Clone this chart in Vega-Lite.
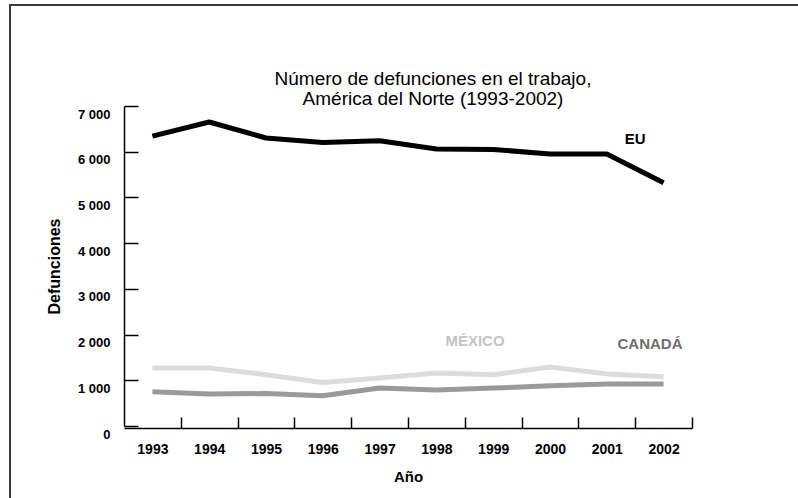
{
  "$schema": "https://vega.github.io/schema/vega-lite/v6.json",
  "autosize": "none",
  "width": 790,
  "height": 496,
  "padding": {"left": 10, "top": 5, "right": -2, "bottom": -3},
  "background": "white",
  "title": {
    "text": ["Número de defunciones en el trabajo,", "América del Norte (1993-2002)"],
    "font": "Liberation Sans",
    "fontSize": 19,
    "fontWeight": "normal",
    "color": "black",
    "anchor": "middle",
    "frame": "group",
    "dx": 28,
    "offset": -104,
    "lineHeight": 20
  },
  "datasets": {
    "series": [
      {"year": 1993, "country": "EU", "value": 6340},
      {"year": 1994, "country": "EU", "value": 6650},
      {"year": 1995, "country": "EU", "value": 6300},
      {"year": 1996, "country": "EU", "value": 6200},
      {"year": 1997, "country": "EU", "value": 6240},
      {"year": 1998, "country": "EU", "value": 6060},
      {"year": 1999, "country": "EU", "value": 6050},
      {"year": 2000, "country": "EU", "value": 5950},
      {"year": 2001, "country": "EU", "value": 5950},
      {"year": 2002, "country": "EU", "value": 5320},
      {"year": 1993, "country": "México", "value": 1270},
      {"year": 1994, "country": "México", "value": 1270},
      {"year": 1995, "country": "México", "value": 1120},
      {"year": 1996, "country": "México", "value": 950},
      {"year": 1997, "country": "México", "value": 1050},
      {"year": 1998, "country": "México", "value": 1160},
      {"year": 1999, "country": "México", "value": 1120},
      {"year": 2000, "country": "México", "value": 1290},
      {"year": 2001, "country": "México", "value": 1140},
      {"year": 2002, "country": "México", "value": 1080},
      {"year": 1993, "country": "Canadá", "value": 750},
      {"year": 1994, "country": "Canadá", "value": 700},
      {"year": 1995, "country": "Canadá", "value": 710},
      {"year": 1996, "country": "Canadá", "value": 660},
      {"year": 1997, "country": "Canadá", "value": 830},
      {"year": 1998, "country": "Canadá", "value": 790},
      {"year": 1999, "country": "Canadá", "value": 830},
      {"year": 2000, "country": "Canadá", "value": 880},
      {"year": 2001, "country": "Canadá", "value": 920},
      {"year": 2002, "country": "Canadá", "value": 920}
    ],
    "labels": [
      {"label": "EU", "year": 2001.5, "value": 6270},
      {"label": "MÉXICO", "year": 1998.68, "value": 1860},
      {"label": "CANADÁ", "year": 2001.76, "value": 1800}
    ]
  },
  "layer": [
    {
      "data": {"name": "series"},
      "mark": {"type": "line", "strokeWidth": 5, "strokeCap": "butt", "strokeJoin": "round"},
      "encoding": {
        "x": {
          "field": "year",
          "type": "quantitative",
          "scale": {"domain": [1992.5, 2002.5], "range": [114, 682], "nice": false, "zero": false},
          "axis": {
            "title": "Año",
            "offset": -73,
            "values": [1993, 1994, 1995, 1996, 1997, 1998, 1999, 2000, 2001, 2002],
            "format": "d",
            "grid": false,
            "domainColor": "black",
            "domainWidth": 1.5,
            "tickColor": "black",
            "tickWidth": 1.5,
            "tickSize": -11,
            "tickOffset": 28.4,
            "labelOffset": -28.4,
            "labelPadding": 25,
            "labelFont": "Liberation Sans",
            "labelFontSize": 14,
            "labelFontWeight": "bold",
            "labelColor": "black",
            "labelFlush": false,
            "labelOverlap": false,
            "titleFont": "Liberation Sans",
            "titleFontSize": 15,
            "titleFontWeight": "bold",
            "titleColor": "black",
            "titlePadding": 13
          }
        },
        "y": {
          "field": "value",
          "type": "quantitative",
          "scale": {"domain": [0, 7000], "range": [421, 101], "nice": false},
          "axis": {
            "title": "Defunciones",
            "offset": -114,
            "values": [0, 1000, 2000, 3000, 4000, 5000, 6000, 7000],
            "labelExpr": "replace(format(datum.value, ','), ',', ' ')",
            "grid": false,
            "domainColor": "black",
            "domainWidth": 1.5,
            "tickColor": "black",
            "tickWidth": 1.5,
            "tickSize": -14,
            "labelPadding": 28,
            "labelOffset": 8,
            "labelFont": "Liberation Sans",
            "labelFontSize": 13,
            "labelFontWeight": "bold",
            "labelColor": "black",
            "labelFlush": false,
            "labelOverlap": false,
            "titleFont": "Liberation Sans",
            "titleFontSize": 16,
            "titleFontWeight": "bold",
            "titleColor": "black",
            "titlePadding": 15
          }
        },
        "color": {
          "field": "country",
          "type": "nominal",
          "scale": {"domain": ["EU", "México", "Canadá"], "range": ["#000000", "#dcdcdc", "#9a9a9a"]},
          "legend": null
        }
      }
    },
    {
      "data": {"name": "labels"},
      "mark": {"type": "text", "font": "Liberation Sans", "fontSize": 15, "fontWeight": "bold", "align": "center", "baseline": "middle"},
      "encoding": {
        "x": {"field": "year", "type": "quantitative"},
        "y": {"field": "value", "type": "quantitative"},
        "text": {"field": "label"},
        "color": {
          "field": "label",
          "type": "nominal",
          "scale": {"domain": ["EU", "MÉXICO", "CANADÁ"], "range": ["#000000", "#c4c4c4", "#6e6e6e"]},
          "legend": null
        }
      }
    }
  ],
  "resolve": {"scale": {"color": "independent"}},
  "config": {"view": {"stroke": "#3a3a3a", "strokeWidth": 2}}
}
